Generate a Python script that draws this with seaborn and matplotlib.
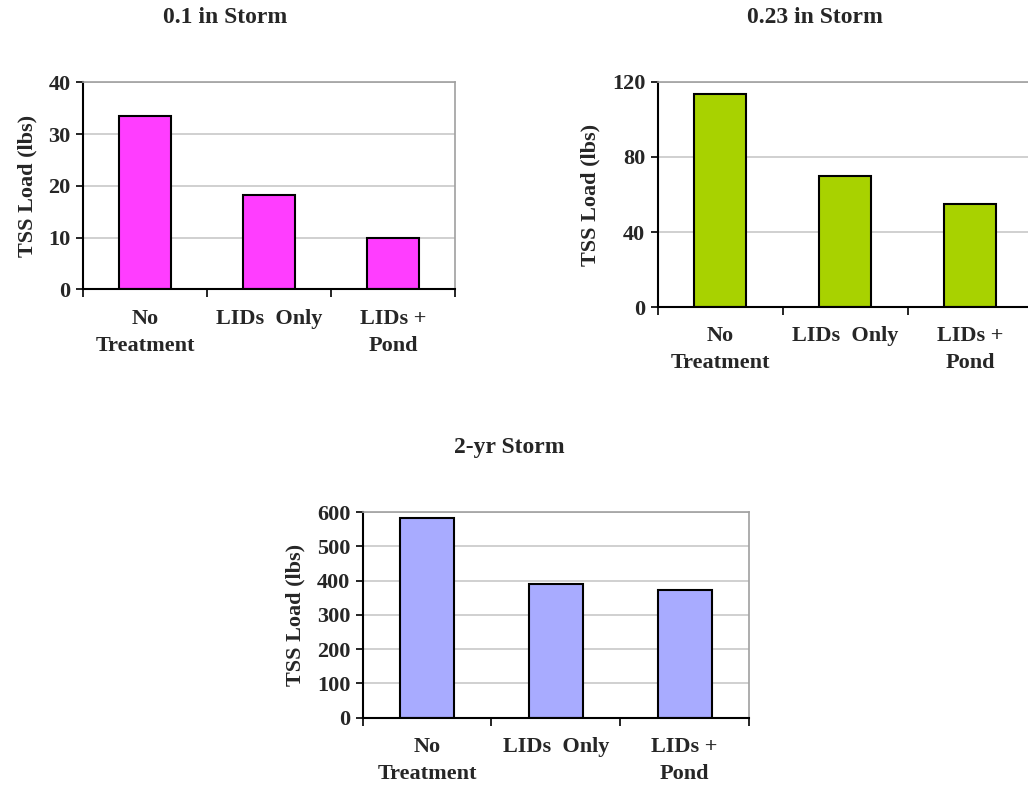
import pandas as pd
import matplotlib.pyplot as plt
import seaborn as sns

# TSS load (lbs) for each treatment scenario
categories = ["No\nTreatment", "LIDs  Only", "LIDs +\nPond"]
storm_01 = [33.4, 18.2, 10.0]
storm_023 = [113.6, 70.0, 55.0]
storm_2yr = [582, 389, 373]

titles = ["0.1 in Storm", "0.23 in Storm", "2-yr Storm"]
colors = ["#ff3dff", "#a8d200", "#a8abff"]
yticks = [[0, 10, 20, 30, 40], [0, 40, 80, 120], [0, 100, 200, 300, 400, 500, 600]]

sns.set_style("white")
plt.rcParams["font.family"] = ["Liberation Serif", "DejaVu Serif"]
plt.rcParams["font.weight"] = "bold"

fig = plt.figure(figsize=(10.28, 7.86), dpi=100)

# axes boxes in figure fractions
boxes = [
    [0.0807, 0.6319, 0.3619, 0.2634],
    [0.6398, 0.6094, 0.3648, 0.2863],
    [0.3528, 0.0869, 0.3758, 0.2617],
]
title_pos = [(0.219, 0.978), (0.793, 0.978), (0.495, 0.431)]

for vals, title, col, ticks, box, tp in zip(
        [storm_01, storm_023, storm_2yr], titles, colors, yticks, boxes, title_pos):
    df = pd.DataFrame({"scenario": categories, "load": vals})
    ax = fig.add_axes(box)
    sns.barplot(data=df, x="scenario", y="load", ax=ax, color=col,
                saturation=1, width=0.42, edgecolor="black", linewidth=1.5)
    ax.set_ylim(0, ticks[-1])
    ax.set_xlim(-0.5, 2.5)
    ax.set_yticks(ticks)
    ax.yaxis.grid(True, color="#c8c8c8", linewidth=1.2)
    ax.set_axisbelow(True)
    ax.set_xlabel("")
    ax.set_ylabel("TSS Load (lbs)", fontsize=16, fontweight="bold", labelpad=8)
    ax.tick_params(axis="y", which="major", length=5, width=1.2, color="black",
                   labelsize=16, pad=4, left=True)
    ax.tick_params(axis="x", which="major", length=0, labelsize=16, pad=14)
    ax.set_xticks([-0.5, 0.5, 1.5, 2.5], minor=True)
    ax.tick_params(axis="x", which="minor", length=6, width=1.2, color="black", bottom=True)
    for lbl in ax.get_xticklabels():
        lbl.set_fontweight("bold")
        lbl.set_linespacing(1.45)
    for lbl in ax.get_yticklabels():
        lbl.set_fontweight("bold")
    for s in ["left", "bottom"]:
        ax.spines[s].set_color("black")
        ax.spines[s].set_linewidth(1.5)
    for s in ["top", "right"]:
        ax.spines[s].set_color("#a0a0a0")
        ax.spines[s].set_linewidth(1.2)
    fig.text(tp[0], tp[1], title, ha="center", va="center", fontsize=17, fontweight="bold")

fig.savefig("out.png", dpi=100)
